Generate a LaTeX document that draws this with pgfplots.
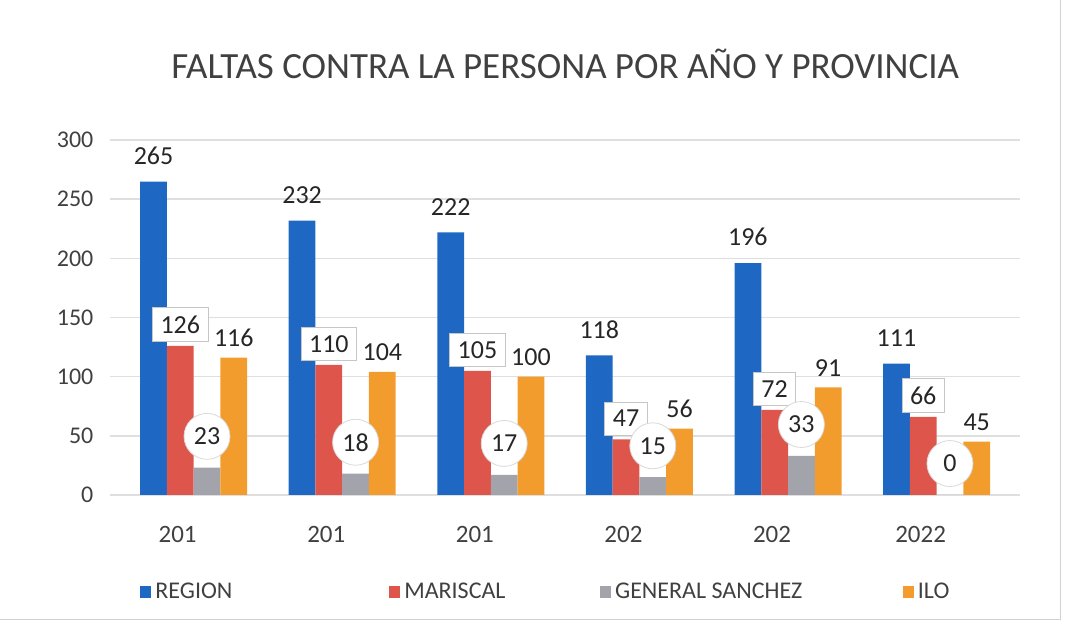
\documentclass[border=0pt]{standalone}
\usepackage{fontspec}
\setmainfont{Carlito}
\usepackage{pgfplots}
\usepackage{pgfplotstable}
\pgfplotsset{compat=1.18}

\definecolor{cRegion}{HTML}{1E68C4}
\definecolor{cMar}{HTML}{DE554C}
\definecolor{cGen}{HTML}{A3A3AB}
\definecolor{cIlo}{HTML}{F29C2E}

% faltas por provincia y año
\pgfplotstableread{
x region mariscal general ilo
0 265 126 23 116
1 232 110 18 104
2 222 105 17 100
3 118 47 15 56
4 196 72 33 91
5 111 66 0 45
}\datatable

\begin{document}
\begin{tikzpicture}
\begin{axis}[
  scale only axis, width=455pt, height=177.5pt, clip=false,
  ybar=0pt, bar width=0.18,
  xmin=-0.56, xmax=5.56, ymin=0, ymax=300,
  xtick={0,...,5}, xticklabels={201,201,201,202,202,2022},
  ytick={0,50,...,300},
  ymajorgrids, grid style={gray!25, line width=0.8pt},
  axis line style={draw=none}, major tick length=0pt,
  tick label style={font=\fontsize{12}{14}\selectfont, text=black!75},
  xticklabel style={font=\fontsize{12.5}{14}\selectfont, yshift=-12pt, xshift=-8pt},
  yticklabel style={xshift=-5pt},
  /pgf/number format/assume math mode=true,
  title={FALTAS CONTRA LA PERSONA POR AÑO Y PROVINCIA},
  title style={at={(0.5,1.18)}, anchor=center, font=\fontsize{18.5}{22}\selectfont, text=black!75},
  legend columns=4,
  legend style={draw=none, fill=none, at={(0.026,-0.273)}, anchor=west,
    font=\fontsize{12}{14}\selectfont, text=black!75,
    /tikz/every even column/.append style={column sep=0pt}},
  legend image code/.code={\fill[#1, draw=none] (0pt,-3pt) rectangle (5.5pt,3pt);},
  nodes near coords,
  every node near coord/.append style={font=\fontsize{13}{15}\selectfont, text=black!85},
]
\addplot[draw=none, fill=cRegion,
  every node near coord/.append style={yshift=5pt}]
  table[x=x, y=region]{\datatable};
\addlegendentry{\makebox[115pt][l]{REGION}}
\addplot[draw=none, fill=cMar,
  every node near coord/.append style={fill=white, draw=gray!45, inner sep=4pt, yshift=2pt}]
  table[x=x, y=mariscal]{\datatable};
\addlegendentry{\makebox[96pt][l]{MARISCAL}}
\addplot[draw=none, fill=cGen,
  every node near coord/.append style={circle, fill=white, draw=gray!30, minimum size=23pt, inner sep=1pt, yshift=4pt}]
  table[x=x, y=general]{\datatable};
\addlegendentry{\makebox[142pt][l]{GENERAL SANCHEZ}}
\addplot[draw=none, fill=cIlo,
  every node near coord/.append style={yshift=2pt}]
  table[x=x, y=ilo]{\datatable};
\addlegendentry{ILO}
\draw[gray!35] (rel axis cs:-0.121,-0.35) -- (rel axis cs:1.045,-0.35) -- (rel axis cs:1.045,1.394);
\path (rel axis cs:-0.121,-0.369) rectangle (rel axis cs:1.053,1.394);
\end{axis}
\end{tikzpicture}
\end{document}
